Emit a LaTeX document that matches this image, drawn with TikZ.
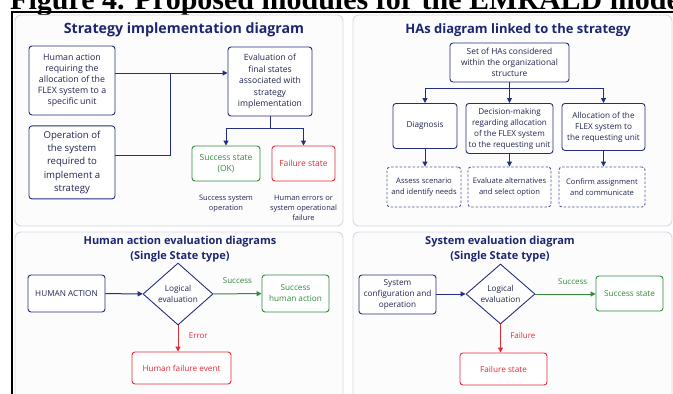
\documentclass[tikz,border=0pt]{standalone}
\usepackage{fontspec}
\setmainfont{Open Sans}
\newfontfamily\captfont{Liberation Serif}
\usepackage{tikz}
\usetikzlibrary{shapes.geometric,arrows.meta,positioning}
\definecolor{diagnavy}{RGB}{36,46,128}
\definecolor{titlenavy}{RGB}{28,38,112}
\definecolor{textnavy}{RGB}{34,38,80}
\definecolor{okgreen}{RGB}{48,140,62}
\definecolor{failred}{RGB}{226,44,56}
\definecolor{panelgrey}{RGB}{214,217,224}
\definecolor{panelfill}{RGB}{252,252,253}
\newcommand{\boxfont}{\fontsize{8.2}{11}\selectfont}

\begin{document}
\begin{tikzpicture}[
    x=1pt, y=-1pt,
    panel/.style={draw=panelgrey, fill=panelfill, line width=0.9pt, rounded corners=6pt},
    paneltitle/.style={font=\fontsize{13.5}{15}\selectfont\bfseries, text=titlenavy, align=center},
    subtitle/.style={font=\fontsize{11}{15}\selectfont\bfseries, text=titlenavy, align=center},
    navybox/.style={rectangle, draw=diagnavy, fill=white, line width=0.9pt,
        rounded corners=3pt, font=\boxfont, text=textnavy, align=center, inner sep=2pt},
    okbox/.style={navybox, draw=okgreen, text=okgreen},
    failbox/.style={navybox, draw=failred, text=failred},
    dashbox/.style={navybox, draw=diagnavy!80, dash pattern=on 2.5pt off 1.8pt,
        font=\fontsize{7.6}{11}\selectfont},
    decision/.style={diamond, draw=diagnavy, fill=white, line width=0.9pt, font=\boxfont,
        text=textnavy, align=center, inner sep=0pt, aspect=1.1},
    note/.style={font=\fontsize{7.5}{10}\selectfont, text=textnavy, align=center},
    edgelabel/.style={font=\fontsize{8}{9}\selectfont},
    link/.style={draw=diagnavy, line width=1pt},
    >={Triangle[length=5pt,width=5pt]}
]
\useasboundingbox (0,0) rectangle (673,394);
\fill[white] (0,0) rectangle (673,394);

% cropped caption and frame
\node[anchor=base west, inner sep=0pt, font=\captfont\fontsize{30}{30}\selectfont\bfseries] (caption) at (10,9.5)
    {Figure 4. Proposed modules for the EMRALD model};
\draw[line width=1.4pt] (12,400) -- (12,12) -- (680,12);

% panels
\draw[panel] (15,15) rectangle (343,226);
\draw[panel] (353,15) rectangle (672,226);
\draw[panel] (15,232) rectangle (343,405);
\draw[panel] (353,232) rectangle (672,405);

% strategy implementation
\node[paneltitle, font=\fontsize{14.2}{15}\selectfont\bfseries] (stratttl) at (184,30) {Strategy implementation diagram};
\node[navybox, minimum width=86pt, minimum height=69pt, font=\fontsize{8.8}{11}\selectfont] (hareq) at (72,80.5)
    {Human action\\requiring the\\allocation of the\\FLEX system to a\\specific unit};
\node[navybox, below=10pt of hareq, minimum width=86pt, minimum height=73pt,
    font=\fontsize{9.6}{13.4}\selectfont] (opsys)
    {Operation of\\the system\\required to\\implement a\\strategy};
\node[navybox, minimum width=84pt, minimum height=69pt, font=\fontsize{8.6}{11.5}\selectfont] (evalfs) at (270,81.5)
    {Evaluation of\\final states\\associated with\\strategy\\implementation};
\node[okbox, minimum width=68pt, minimum height=35pt, font=\fontsize{8.5}{11}\selectfont] (okstate) at (226,163.5)
    {Success state\\(OK)};
\node[failbox, minimum width=63pt, minimum height=35pt, font=\fontsize{8.5}{11}\selectfont] (failstate) at (303.5,163.5)
    {Failure state};
\node[note, below=10pt of okstate] (oknote) {Success system\\operation};
\node[note, below=10pt of failstate] (failnote) {Human errors or\\system operational\\failure};

\coordinate (jtop) at (170,73);
\coordinate (jbot) at (170,155);
\draw[link] (hareq.east |- jtop) -- (jtop) -- (jbot) -- (opsys.east |- jbot);
\draw[link, ->] (jtop) -- (evalfs.west |- jtop);
\draw[link, ->] (evalfs.south) -- ++(0,12.5) -| (okstate.north);
\draw[link, ->] (evalfs.south) ++(0,12.5) -| (failstate.north);

% HAs diagram
\node[paneltitle, font=\fontsize{13}{15}\selectfont\bfseries] (hasttl) at (518,30) {HAs diagram linked to the strategy};
\node[navybox, minimum width=119pt, minimum height=39pt, font=\fontsize{8.4}{11}\selectfont] (haset) at (509.5,62.5)
    {Set of HAs considered\\within the organizational\\structure};
\node[navybox, anchor=north, minimum width=64pt, minimum height=45pt] (diag) at (425,103)
    {Diagnosis};
\node[navybox, anchor=north, minimum width=87pt, minimum height=50pt, font=\fontsize{8.1}{11}\selectfont] (decis) at (509.5,103)
    {Decision-making\\regarding allocation\\of the FLEX system\\to the requesting unit};
\node[navybox, anchor=north, minimum width=83pt, minimum height=47pt] (alloc) at (603.5,103)
    {Allocation of the\\FLEX system to\\the requesting unit};
\node[dashbox, minimum width=74pt, minimum height=40pt] (assess) at (424,187)
    {Assess scenario\\and identify needs};
\node[dashbox, minimum width=83pt, minimum height=40pt] (evalalt) at (509.5,187)
    {Evaluate alternatives\\and select option};
\node[dashbox, minimum width=86pt, minimum height=40pt] (confirm) at (602,187)
    {Confirm assignment\\and communicate};

\draw[link, ->] (haset.south) -- ++(0,6.5) -| (diag.north);
\draw[link, ->] (haset.south) -- (decis.north);
\draw[link, ->] (haset.south) ++(0,6.5) -| (alloc.north);
\draw[link, ->] (diag.south) -- (diag.south |- assess.north);
\draw[link, ->] (decis.south) -- (decis.south |- evalalt.north);
\draw[link, ->] (alloc.south) -- (alloc.south |- confirm.north);

% human action evaluation
\node[subtitle] (hattl) at (180,249.5) {Human action evaluation diagrams\\(Single State type)};
\node[navybox, minimum width=77pt, minimum height=37pt] (humact) at (66.5,293.5) {HUMAN ACTION};
\node[decision, minimum width=70pt, minimum height=62pt] (logev1) at (178,294) {Logical\\evaluation};
\node[okbox, minimum width=67pt, minimum height=37pt] (hasucc) at (295.5,293.5) {Success\\human action};
\node[failbox, minimum width=99pt, minimum height=32pt] (hafail) at (181.5,368) {Human failure event};

\draw[link, ->] (humact) -- (logev1);
\draw[link, draw=okgreen, ->] (logev1) -- node[edgelabel, text=okgreen, above=6pt] {Success} (hasucc);
\draw[link, draw=failred, ->] (logev1.south) -- node[edgelabel, text=failred, right=7pt, pos=0.4] {Error} (logev1.south |- hafail.north);

% system evaluation
\node[subtitle] (systtl) at (500,249.5) {System evaluation diagram\\(Single State type)};
\node[navybox, minimum width=77pt, minimum height=39pt] (syscfg) at (397.5,294.5)
    {System\\configuration and\\operation};
\node[decision, minimum width=69pt, minimum height=60pt] (logev2) at (500.5,294) {Logical\\evaluation};
\node[okbox, minimum width=67pt, minimum height=35pt] (syssucc) at (629.5,293.5) {Success state};
\node[failbox, minimum width=87pt, minimum height=32pt] (sysfail) at (503.5,369) {Failure state};

\draw[link, ->] (syscfg.east |- logev2) -- (logev2);
\draw[link, draw=okgreen, ->] (logev2) -- node[edgelabel, text=okgreen, above=6pt, pos=0.62] {Success} (syssucc.west |- logev2);
\draw[link, draw=failred, ->] (logev2.south) -- node[edgelabel, text=failred, right=6pt, pos=0.4] {Failure} (logev2.south |- sysfail.north);
\end{tikzpicture}
\end{document}
